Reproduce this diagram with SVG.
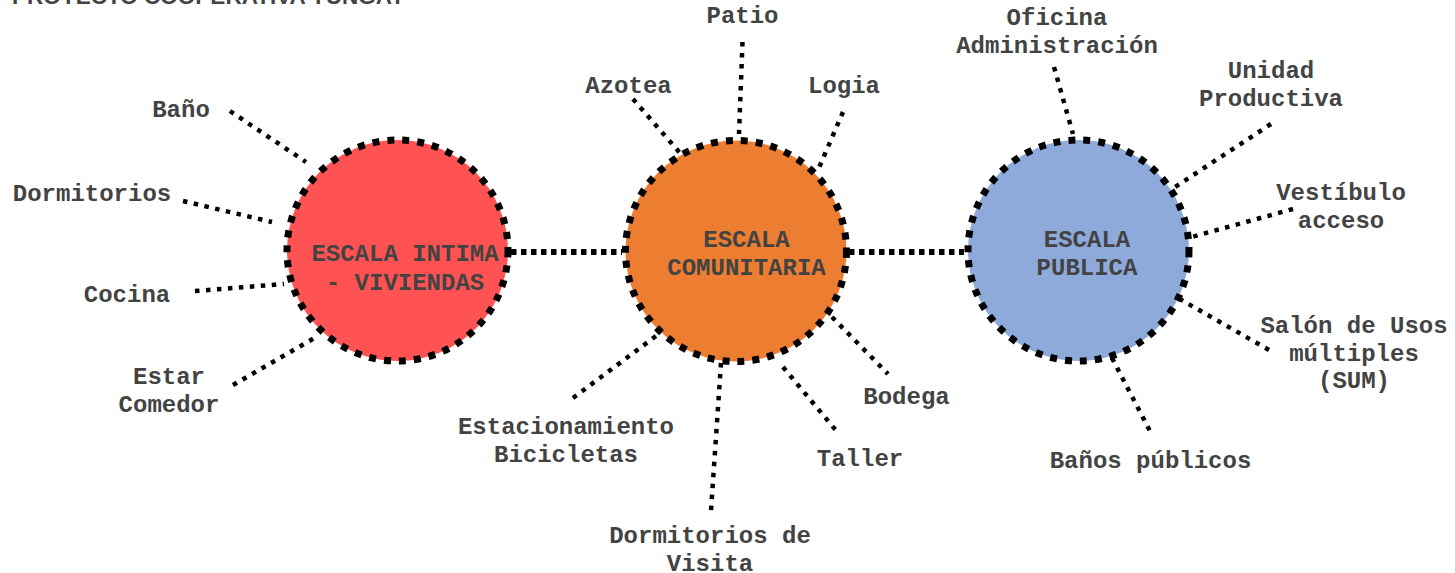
<svg xmlns="http://www.w3.org/2000/svg" width="1455" height="573" viewBox="0 0 1455 573">
<style>
  .lbl{font-family:"Liberation Mono","Courier New",monospace;font-weight:bold;font-size:24px;fill:#434343;text-anchor:middle}
  .ring{stroke:#000;stroke-width:7;stroke-dasharray:7 8}
  .spoke{stroke:#000;stroke-width:4.5;stroke-dasharray:4.5 6.5;fill:none}
  .link{stroke:#000;stroke-width:6;stroke-dasharray:5.5 4.5;fill:none}
  .title{font-family:"Liberation Sans",Arial,sans-serif;font-weight:bold;font-size:22.5px;fill:#434343}
</style>
<rect width="1455" height="573" fill="#fff"/>
<text class="title" x="12" y="4">PROYECTO COOPERATIVA YUNGAY</text>

<g id="connectors">
  <line class="link" x1="511" y1="252" x2="622" y2="252"/>
  <line class="link" x1="849" y1="252" x2="964" y2="252"/>
  <line class="spoke" x1="230" y1="111" x2="306" y2="162"/>
  <line class="spoke" x1="183" y1="201" x2="272" y2="222"/>
  <line class="spoke" x1="195" y1="291" x2="284" y2="284"/>
  <line class="spoke" x1="233" y1="385" x2="318" y2="336"/>
  <line class="spoke" x1="742.5" y1="42" x2="739" y2="134"/>
  <line class="spoke" x1="633" y1="99" x2="680" y2="153"/>
  <line class="spoke" x1="843" y1="112" x2="818" y2="170"/>
  <line class="spoke" x1="573" y1="398" x2="660" y2="333"/>
  <line class="spoke" x1="721" y1="363" x2="711" y2="511"/>
  <line class="spoke" x1="783" y1="367" x2="839" y2="434"/>
  <line class="spoke" x1="832" y1="317" x2="888" y2="374"/>
  <line class="spoke" x1="1054" y1="67" x2="1073" y2="134"/>
  <line class="spoke" x1="1271" y1="124" x2="1175" y2="187"/>
  <line class="spoke" x1="1293" y1="209" x2="1188" y2="238"/>
  <line class="spoke" x1="1269" y1="350" x2="1178" y2="298"/>
  <line class="spoke" x1="1112" y1="358" x2="1152" y2="435"/>
</g>

<g id="node-intima">
  <circle class="ring" cx="397.5" cy="250.5" r="110.5" fill="#FF5252"/>
  <text class="lbl" x="405" y="261">ESCALA INTIMA</text>
  <text class="lbl" x="405" y="290">- VIVIENDAS</text>
</g>
<g id="node-comunitaria">
  <circle class="ring" cx="736" cy="251" r="110.5" fill="#ED7D31"/>
  <text class="lbl" x="746.5" y="247">ESCALA</text>
  <text class="lbl" x="746.5" y="275">COMUNITARIA</text>
</g>
<g id="node-publica">
  <circle class="ring" cx="1078.5" cy="250.5" r="110.5" fill="#8EAADB"/>
  <text class="lbl" x="1087" y="247">ESCALA</text>
  <text class="lbl" x="1087" y="275">PUBLICA</text>
</g>

<g id="label-bano"><text class="lbl" x="181" y="117">Baño</text></g>
<g id="label-dormitorios"><text class="lbl" x="92" y="201">Dormitorios</text></g>
<g id="label-cocina"><text class="lbl" x="127" y="301.5">Cocina</text></g>
<g id="label-estar"><text class="lbl" x="169" y="384">Estar</text><text class="lbl" x="169" y="412">Comedor</text></g>

<g id="label-patio"><text class="lbl" x="742.5" y="23">Patio</text></g>
<g id="label-azotea"><text class="lbl" x="628.5" y="93">Azotea</text></g>
<g id="label-logia"><text class="lbl" x="844" y="93">Logia</text></g>
<g id="label-estacionamiento"><text class="lbl" x="566" y="434">Estacionamiento</text><text class="lbl" x="566" y="462">Bicicletas</text></g>
<g id="label-dormvisita"><text class="lbl" x="710" y="543">Dormitorios de</text><text class="lbl" x="710" y="571">Visita</text></g>
<g id="label-taller"><text class="lbl" x="860" y="466">Taller</text></g>
<g id="label-bodega"><text class="lbl" x="906.5" y="404">Bodega</text></g>

<g id="label-oficina"><text class="lbl" x="1057" y="25">Oficina</text><text class="lbl" x="1057" y="53">Administración</text></g>
<g id="label-unidad"><text class="lbl" x="1271" y="78">Unidad</text><text class="lbl" x="1271" y="106">Productiva</text></g>
<g id="label-vestibulo"><text class="lbl" x="1341" y="200">Vestíbulo</text><text class="lbl" x="1341" y="228">acceso</text></g>
<g id="label-sum"><text class="lbl" x="1354" y="333">Salón de Usos</text><text class="lbl" x="1354" y="361">múltiples</text><text class="lbl" x="1354" y="388">(SUM)</text></g>
<g id="label-banospublicos"><text class="lbl" x="1150.5" y="468">Baños públicos</text></g>
</svg>
